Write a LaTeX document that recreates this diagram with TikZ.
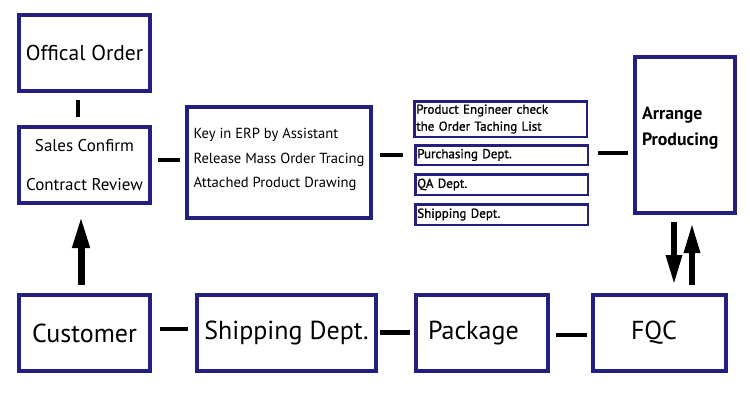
\documentclass[tikz,border=0pt]{standalone}
\usepackage{fontspec}
\setmainfont{PT Sans}
\newfontfamily\semib{PT Sans}[FakeBold=1.2]
\usetikzlibrary{arrows.meta}
\definecolor{navy}{RGB}{35,31,128}
\begin{document}
\begin{tikzpicture}[x=1pt,y=-1pt,
  box/.style={draw=navy,line width=4pt,inner sep=0pt,outer sep=0pt,fill=white},
  bigbox/.style={box,minimum width=131pt,minimum height=76pt},
  rowbox/.style={box,minimum height=76pt,font=\fontsize{26}{30}\selectfont},
  sbox/.style={draw=navy,line width=2.5pt,inner ysep=0pt,inner xsep=2pt,outer sep=0pt,
    text width=168.5pt,align=left,font=\semib\fontsize{13}{17}\selectfont},
  conn/.style={line width=4pt},
  bigarrow/.style={line width=7pt,-{Triangle[width=16pt,length=32pt]}}]
\useasboundingbox (0,0) rectangle (750,400);
% top-left column
\node[bigbox,font=\fontsize{21.5}{26}\selectfont] (off) at (84.5,53) {Offical Order};
\node[bigbox,align=center,font=\fontsize{17}{39}\selectfont] (sc) at (84.5,165) {Sales Confirm\\Contract Review};
% ERP box
\node[box,minimum width=184pt,minimum height=111pt,
  align=left,text depth=9pt,font=\fontsize{14.6}{24.5}\selectfont] (key) at (279,162.5)
  {Key in ERP by Assistant\\Release Mass Order Tracing\\Attached Product Drawing};
% departments
\node[sbox,minimum height=35.5pt] (pe) at (500.5,119) {Product Engineer check\\the Order Taching List};
\node[sbox,minimum height=19.5pt] (pu) at (501.5,155) {Purchasing Dept.};
\node[sbox,minimum height=20.5pt] (qa) at (501.5,184.5) {QA Dept.};
\node[sbox,minimum height=20.5pt] (sh) at (501.5,214.5) {Shipping Dept.};
% arrange producing
\node[box,minimum width=98pt,minimum height=156pt,inner xsep=7pt,text width=86pt,
  align=left,text depth=44pt,font=\bfseries\fontsize{17.8}{26}\selectfont] (arr) at (685,135)
  {Arrange\\Producing};
% bottom row
\node[rowbox,minimum width=131pt] (cu) at (84.5,333) {Customer};
\node[rowbox,minimum width=179pt] (sd) at (286.5,333) {Shipping Dept.};
\node[rowbox,minimum width=132pt,inner xsep=12pt,text width=108pt,align=left] (pk) at (482,333) {Package};
\node[rowbox,minimum width=133pt,inner xsep=38pt,text width=57pt,align=left] (fq) at (659.5,333) {FQC};
% connectors
\draw[conn] ([xshift=-6.5pt,yshift=-9pt]off.south) -- ([xshift=-6.5pt,yshift=10pt]sc.north);
\draw[conn] ([xshift=8pt,yshift=5pt]sc.east) -- ([xshift=-7pt,yshift=2.5pt]key.west);
\draw[conn] ([xshift=9pt]key.east |- pu.west) -- ([xshift=-12pt]pu.west);
\draw[conn] ([xshift=10pt,yshift=2pt]pu.east) -- ([xshift=-7pt,yshift=-18pt]arr.west);
\draw[conn] ([xshift=10pt,yshift=4pt]cu.east) -- ([xshift=-9pt,yshift=4pt]sd.west);
\draw[conn,line width=5pt] ([xshift=4pt,yshift=1pt]sd.east) -- ([xshift=-6pt,yshift=1pt]pk.west);
\draw[conn] ([xshift=8pt,yshift=-2pt]pk.east) -- ([xshift=-6pt,yshift=-2pt]fq.west);
% arrows
\draw[bigarrow] ([xshift=-3.5pt,yshift=10pt]cu.north) -- ([xshift=-3.5pt,yshift=-13pt]sc.south);
\draw[bigarrow,line width=6pt,-{Triangle[width=15pt,length=30pt]}] ([xshift=-11pt,yshift=-9pt]arr.south) -- ([xshift=14.5pt,yshift=10pt]fq.north);
\draw[bigarrow,line width=6pt,-{Triangle[width=15pt,length=30pt]}] ([xshift=32.5pt,yshift=10pt]fq.north) -- ([xshift=7pt,yshift=-10pt]arr.south);
\end{tikzpicture}
\end{document}
